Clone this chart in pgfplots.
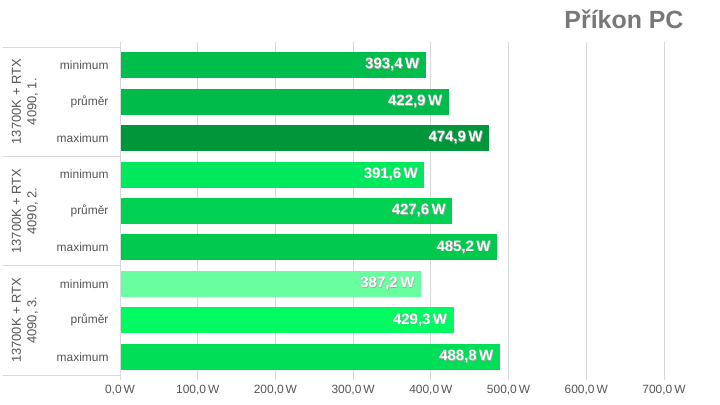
\documentclass[border=0pt]{standalone}
\usepackage{pgfplots}
\pgfplotsset{compat=1.18}
\usepackage{fontspec}
\setmainfont{Liberation Sans}
\definecolor{gA}{HTML}{00BE4C}
\definecolor{gB}{HTML}{00BB4A}
\definecolor{gC}{HTML}{00973B}
\definecolor{gD}{HTML}{00E85E}
\definecolor{gE}{HTML}{00D152}
\definecolor{gF}{HTML}{00C94E}
\definecolor{gG}{HTML}{69FFA0}
\definecolor{gH}{HTML}{00FA62}
\definecolor{gI}{HTML}{00DD56}
\definecolor{txt}{HTML}{555555}
\definecolor{gridc}{HTML}{D9D9D9}
\newcommand\lbl{\pgfmathprintnumber[fixed,fixed zerofill,precision=1,use comma]{\pgfplotspointmeta}\,W}
\begin{document}
\begin{tikzpicture}
\begin{axis}[
  at={(120bp,30bp)}, anchor=south west,
  width=544bp, height=328bp, scale only axis,
  xbar, bar width=26bp, bar shift=0pt,
  xmin=0, xmax=700, ymin=-0.5, ymax=8.5, y dir=reverse,
  xtick={0,100,...,700},
  xticklabel={\pgfmathprintnumber[fixed,fixed zerofill,precision=1,use comma]{\tick}\,W},
  /pgf/number format/assume math mode=true,
  xticklabel style={font=\fontsize{12}{14}\selectfont, text=txt, yshift=-2bp},
  ytick={0,...,8},
  yticklabels={minimum,průměr,maximum,minimum,průměr,maximum,minimum,průměr,maximum},
  yticklabel style={font=\fontsize{12}{14}\selectfont, text=txt, xshift=-3bp},
  ytick style={draw=none},
  xmajorgrids, grid style={gridc, line width=0.8pt},
  tick align=outside, major tick length=5bp,
  xtick style={gridc, line width=0.8pt},
  axis line style={draw=none},
  clip=false,
  nodes near coords={\rlap{\kern0.7bp\raisebox{-0.7bp}{\color{black!35}\lbl}}\lbl},
  point meta=x,
  nodes near coords style={anchor=east, xshift=-3bp, text=white, font=\bfseries\fontsize{15}{17}\selectfont},
  every axis plot/.append style={draw=none},
]
\addplot[fill=gA] coordinates {(393.4,0)};
\addplot[fill=gB] coordinates {(422.9,1)};
\addplot[fill=gC] coordinates {(474.9,2)};
\addplot[fill=gD] coordinates {(391.6,3)};
\addplot[fill=gE] coordinates {(427.6,4)};
\addplot[fill=gF] coordinates {(485.2,5)};
\addplot[fill=gG] coordinates {(387.2,6)};
\addplot[fill=gH] coordinates {(429.3,7)};
\addplot[fill=gI] coordinates {(488.8,8)};
\draw[gridc, line width=0.8pt] (axis cs:0,-0.5) -- (axis cs:0,8.5);
\draw[gridc, line width=0.8pt] ([xshift=-117bp]axis cs:0,-0.5) -- (axis cs:0,-0.5);
\draw[gridc, line width=0.8pt] ([xshift=-117bp]axis cs:0,2.5) -- (axis cs:0,2.5);
\draw[gridc, line width=0.8pt] ([xshift=-117bp]axis cs:0,5.5) -- (axis cs:0,5.5);
\draw[gridc, line width=0.8pt] ([xshift=-117bp]axis cs:0,8.5) -- (axis cs:0,8.5);
\node[rotate=90, align=center, text=txt, font=\fontsize{13}{15.5}\selectfont] at ([xshift=-95bp]axis cs:0,1) {13700K + RTX\\4090, 1.};
\node[rotate=90, align=center, text=txt, font=\fontsize{13}{15.5}\selectfont] at ([xshift=-95bp]axis cs:0,4) {13700K + RTX\\4090, 2.};
\node[rotate=90, align=center, text=txt, font=\fontsize{13}{15.5}\selectfont] at ([xshift=-95bp]axis cs:0,7) {13700K + RTX\\4090, 3.};
\end{axis}
\node[anchor=east, font=\bfseries\fontsize{25}{28}\selectfont, text=black!53] at (687bp,386bp) {Příkon PC};
\pgfresetboundingbox
\path[use as bounding box] (0,0) rectangle (720bp,405bp);
\end{tikzpicture}
\end{document}
